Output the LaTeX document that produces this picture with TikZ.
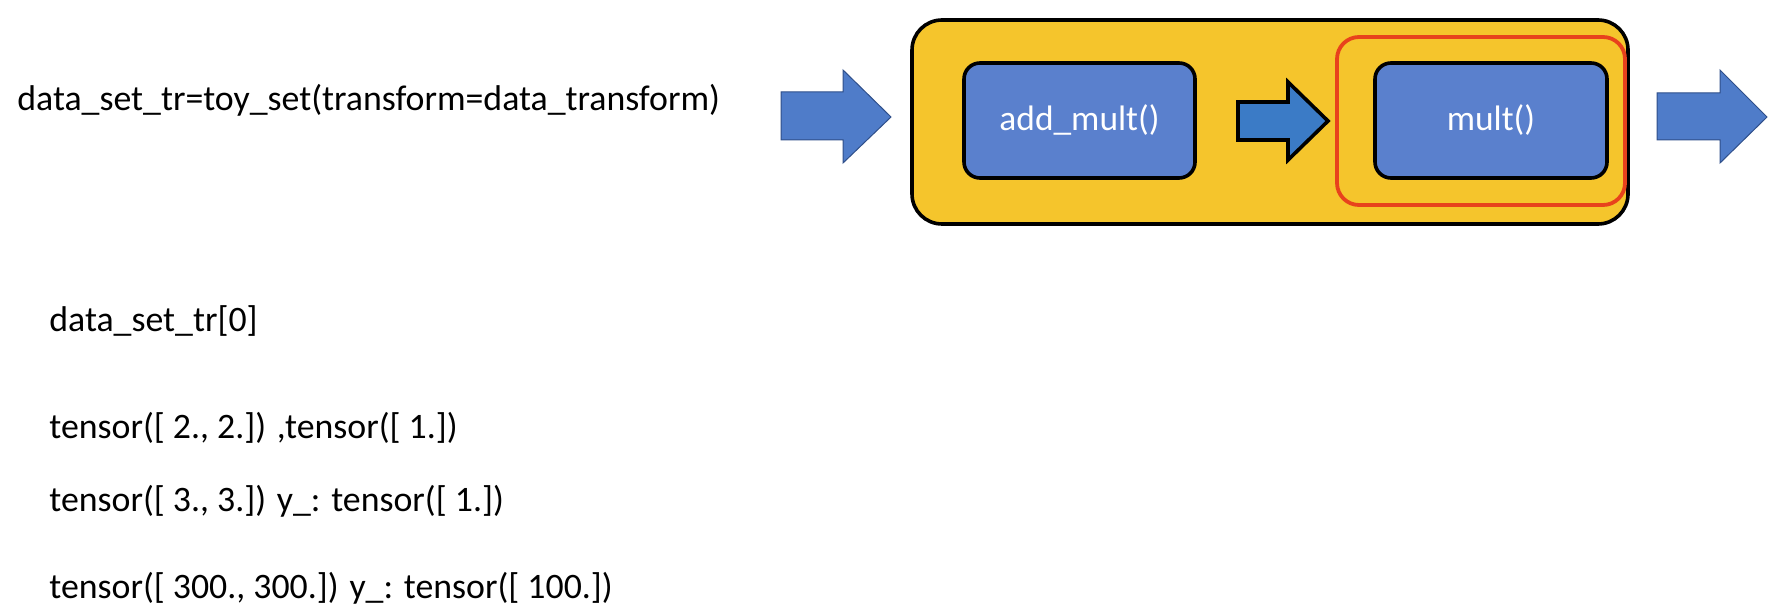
\documentclass[tikz,border=0pt]{standalone}
\usepackage{fontspec}
\setmainfont{Carlito}
\definecolor{gold}{HTML}{F5C52C}
\definecolor{boxblue}{HTML}{5A80CD}
\definecolor{arrblue}{HTML}{4F7CC9}
\definecolor{midblue}{HTML}{3B7BC6}
\definecolor{redline}{HTML}{E8421C}
\definecolor{arredge}{HTML}{2F4F8A}
\begin{document}
\begin{tikzpicture}[x=0.5pt,y=-0.5pt,
  txt/.style={anchor=base west,inner sep=0pt,font=\fontsize{17.9}{20}\selectfont},
  fnbox/.style={draw=black,line width=1.8pt,fill=boxblue,rounded corners=8pt,text=white,font=\fontsize{17.7}{20}\selectfont},
  blockarrow/.style={fill=arrblue,draw=arredge,line width=0.5pt,line join=miter},
  midarrow/.style={fill=midblue,draw=black,line width=1.8pt,line join=miter}]
\useasboundingbox (0,0) rectangle (1775,614);
% texts
\node[txt] (t1) at (17,111) {data\_set\_tr=toy\_set(transform=data\_transform)};
\node[txt] (t2) at (49,332) {data\_set\_tr[0]};
\node[txt] (t3) at (49,438) {tensor([ 2., 2.]) ,tensor([ 1.])};
\node[txt] (t4) at (49,511) {tensor([ 3., 3.]) y\_: tensor([ 1.])};
\node[txt] (t5) at (49,598) {tensor([ 300., 300.]) y\_: tensor([ 100.])};
% yellow container
\draw[fill=gold,draw=black,line width=1.8pt,rounded corners=15pt] (912,20) rectangle (1628,224);
% red highlight
\draw[draw=redline,line width=1.9pt,rounded corners=11pt] (1337,37) rectangle (1625,205);
% function boxes
\node[fnbox,minimum width=115.5pt,minimum height=57.5pt] (am) at (1079.5,120.5) {add\_mult()};
\node[fnbox,minimum width=116pt,minimum height=57.5pt] (mu) at (1491,120.5) {mult()};
% block arrows
\draw[blockarrow] (781,92) -- (843,92) -- (843,70) -- (891,117) -- (843,163) -- (843,140) -- (781,140) -- cycle;
\draw[midarrow] (1238,102) -- (1288,102) -- (1288,82) -- (1328,121) -- (1288,160) -- (1288,140) -- (1238,140) -- cycle;
\draw[blockarrow] (1657,93) -- (1720,93) -- (1720,70) -- (1767,117) -- (1720,163) -- (1720,140) -- (1657,140) -- cycle;
\end{tikzpicture}
\end{document}
